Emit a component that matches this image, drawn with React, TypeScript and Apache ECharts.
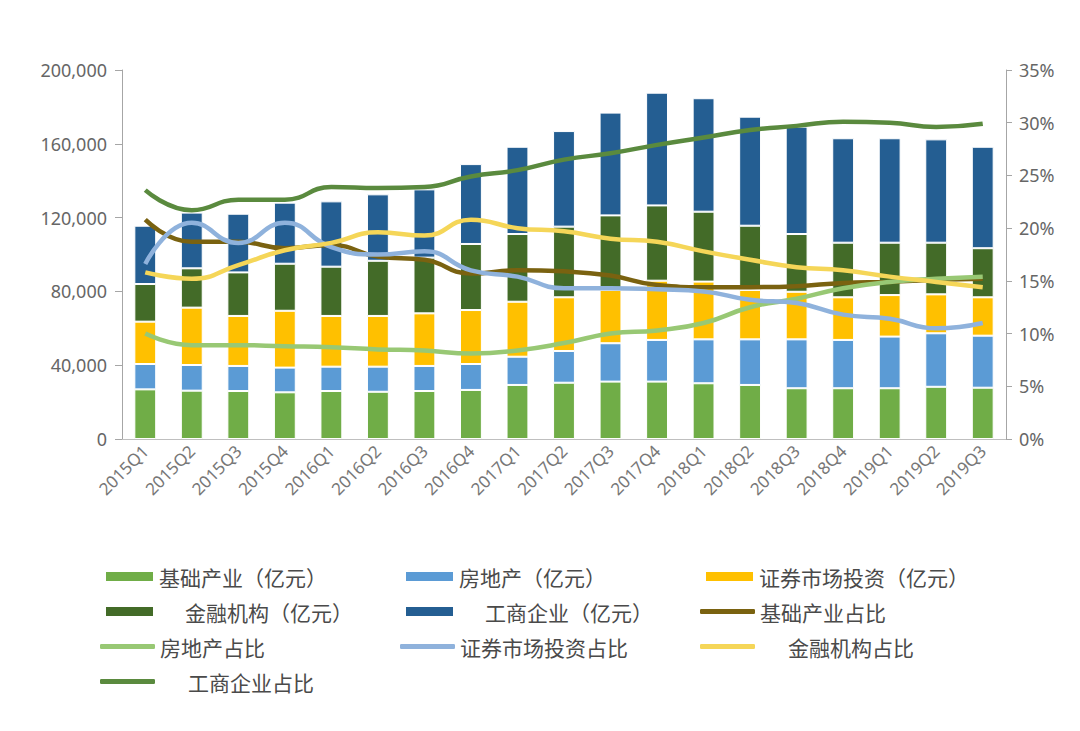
import React, { useEffect, useRef } from "react";
import * as echarts from "echarts";

const categories = [
  "2015Q1", "2015Q2", "2015Q3", "2015Q4",
  "2016Q1", "2016Q2", "2016Q3", "2016Q4",
  "2017Q1", "2017Q2", "2017Q3", "2017Q4",
  "2018Q1", "2018Q2", "2018Q3", "2018Q4",
  "2019Q1", "2019Q2", "2019Q3",
];

// 亿元 (stacked bars)
const infraAmt = [26900, 26200, 26000, 25300, 26000, 25600, 26000, 26600, 29300, 30500, 31100, 31100, 30200, 29300, 27500, 27500, 27500, 28300, 27800];
const realEstateAmt = [13750, 13900, 13600, 13400, 13200, 13600, 13600, 14050, 15300, 17200, 20800, 22600, 23800, 24700, 26500, 26200, 28000, 29000, 28200];
const securitiesAmt = [22950, 31100, 27100, 30800, 27500, 27500, 28500, 29250, 29800, 29100, 28900, 32100, 31300, 26800, 25800, 23100, 22500, 21100, 20800];
const financialAmt = [20400, 21300, 23600, 25500, 26700, 29900, 30200, 35800, 36700, 38300, 40400, 40800, 37900, 34800, 31300, 29600, 28400, 28000, 26600];
const businessAmt = [31600, 30200, 31800, 33100, 35400, 36000, 37000, 43300, 47300, 51800, 55700, 61100, 61500, 59100, 58200, 56600, 56600, 56000, 55000];

// 占比 (%)
const infraPct = [20.8, 18.7, 18.7, 18.1, 18.4, 17.3, 17.0, 15.7, 16.0, 15.9, 15.5, 14.6, 14.4, 14.4, 14.5, 14.8, 14.9, 15.1, 15.2];
const realEstatePct = [10.0, 8.9, 8.9, 8.8, 8.7, 8.5, 8.4, 8.1, 8.4, 9.1, 10.0, 10.3, 11.0, 12.5, 13.3, 14.3, 14.9, 15.2, 15.4];
const securitiesPct = [16.6, 20.5, 18.6, 20.5, 18.2, 17.5, 17.8, 16.0, 15.4, 14.3, 14.3, 14.2, 14.0, 13.2, 12.9, 11.8, 11.4, 10.5, 11.0];
const financialPct = [15.8, 15.2, 16.5, 17.9, 18.6, 19.6, 19.3, 20.8, 20.0, 19.7, 19.0, 18.7, 17.8, 17.0, 16.3, 16.0, 15.4, 14.9, 14.4];
const businessPct = [23.6, 21.7, 22.7, 22.7, 23.9, 23.8, 23.9, 24.9, 25.5, 26.5, 27.1, 27.9, 28.6, 29.3, 29.7, 30.1, 30.0, 29.6, 29.9];

const barNames = ["基础产业（亿元）", "房地产（亿元）", "证券市场投资（亿元）", "金融机构（亿元）", "工商企业（亿元）"];
const lineNames = ["基础产业占比", "房地产占比", "证券市场投资占比", "金融机构占比", "工商企业占比"];

const barColors = ["#70ad47", "#5b9bd5", "#ffc000", "#436b28", "#245e92"];
const lineColors = ["#7a6210", "#98c874", "#8fb2dc", "#f5d658", "#5a8a3e"];

const CJK = "'Noto Sans CJK SC', 'Noto Sans', sans-serif";

export default function App() {
  const ref = useRef<HTMLDivElement>(null);

  useEffect(() => {
    if (!ref.current) return;
    const chart = echarts.init(ref.current, undefined, { renderer: "svg" });

    const barData = [infraAmt, realEstateAmt, securitiesAmt, financialAmt, businessAmt];
    const lineData = [infraPct, realEstatePct, securitiesPct, financialPct, businessPct];

    const legendLayout = [
      { name: barNames[0], left: 104, top: 566, pad: 0, isLine: false },
      { name: barNames[1], left: 404, top: 566, pad: 0, isLine: false },
      { name: barNames[2], left: 704, top: 566, pad: 0, isLine: false },
      { name: barNames[3], left: 104, top: 601, pad: 26, isLine: false },
      { name: barNames[4], left: 404, top: 601, pad: 26, isLine: false },
      { name: lineNames[0], left: 700, top: 601, pad: 0, isLine: true },
      { name: lineNames[1], left: 100, top: 636, pad: 0, isLine: true },
      { name: lineNames[2], left: 400, top: 636, pad: 0, isLine: true },
      { name: lineNames[3], left: 700, top: 636, pad: 28, isLine: true },
      { name: lineNames[4], left: 100, top: 671, pad: 28, isLine: true },
    ];

    const legends = legendLayout.map((l) => ({
      data: [{ name: l.name, icon: l.isLine ? "roundRect" : "rect" }],
      left: l.left,
      top: l.top,
      padding: 0,
      itemWidth: l.isLine ? 55 : 49,
      itemHeight: l.isLine ? 5 : 11,
      itemGap: 0,
      textStyle: {
        fontSize: 21,
        color: "#4a4a4a",
        fontFamily: CJK,
        padding: [0, 0, 0, l.pad],
      },
    }));

    const series: any[] = [];
    barNames.forEach((n, i) => {
      series.push({
        name: n,
        type: "bar",
        stack: "amt",
        yAxisIndex: 0,
        barWidth: "47%",
        data: barData[i],
        itemStyle: { color: barColors[i], borderColor: "#ffffff", borderWidth: 1 },
        z: 2,
      });
    });
    lineNames.forEach((n, i) => {
      series.push({
        name: n,
        type: "line",
        yAxisIndex: 1,
        smooth: true,
        symbol: "none",
        data: lineData[i],
        lineStyle: { color: lineColors[i], width: 4.5 },
        itemStyle: { color: lineColors[i] },
        z: 5,
      });
    });

    const axisLabelStyle = { color: "#666666", fontSize: 18, fontFamily: "'Noto Sans', sans-serif" };

    chart.setOption({
      animation: false,
      backgroundColor: "#ffffff",
      legend: legends,
      grid: { left: 122, right: 74, top: 70, bottom: 292 },
      xAxis: {
        type: "category",
        data: categories,
        axisLine: { show: true, lineStyle: { color: "#bfbfbf", width: 1 } },
        axisTick: { show: false },
        axisLabel: { rotate: 45, margin: 9, color: "#777777", fontSize: 17, fontFamily: "'Noto Sans', sans-serif" },
      },
      yAxis: [
        {
          type: "value",
          min: 0,
          max: 200000,
          interval: 40000,
          splitLine: { show: false },
          axisLine: { show: true, lineStyle: { color: "#a6a6a6" } },
          axisTick: { show: true, length: 7, lineStyle: { color: "#a6a6a6" } },
          axisLabel: {
            ...axisLabelStyle,
            margin: 15,
            formatter: (v: number) => v.toLocaleString("en-US"),
          },
        },
        {
          type: "value",
          min: 0,
          max: 35,
          interval: 5,
          splitLine: { show: false },
          axisLine: { show: true, lineStyle: { color: "#a6a6a6" } },
          axisTick: { show: true, length: 6, lineStyle: { color: "#a6a6a6" } },
          axisLabel: { ...axisLabelStyle, margin: 13, formatter: "{value}%" },
        },
      ],
      series,
    });

    return () => chart.dispose();
  }, []);

  return <div ref={ref} style={{ width: 1080, height: 731, position: "absolute", left: 0, top: 0 }} />;
}
